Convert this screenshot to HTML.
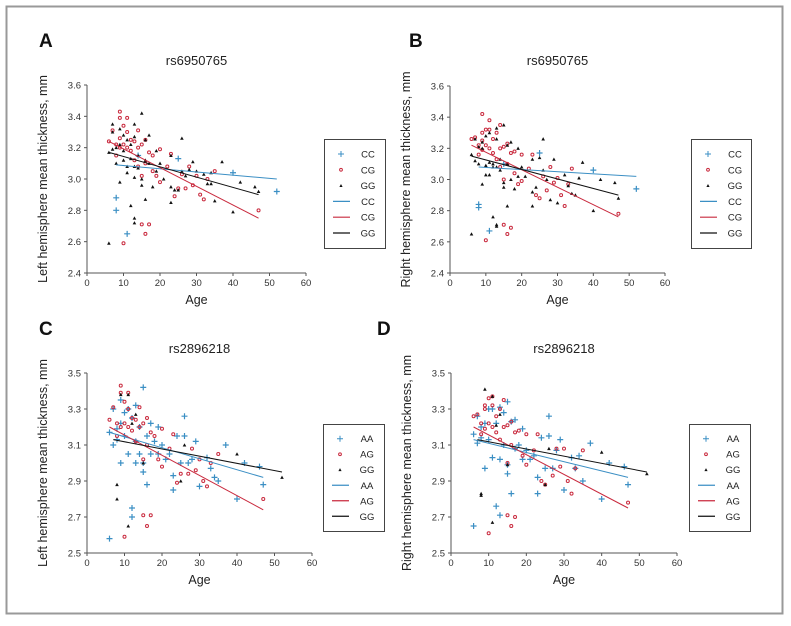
<!DOCTYPE html>
<html><head><meta charset="utf-8"><style>
body{margin:0;background:#fff;font-family:"Liberation Sans",sans-serif}
svg text{font-family:"Liberation Sans",sans-serif}
</style></head><body>
<svg id="fig" width="791" height="621" xmlns="http://www.w3.org/2000/svg">
<rect x="0" y="0" width="791" height="621" fill="#fff"/>
<rect x="6.5" y="6.5" width="776" height="607" fill="none" stroke="#999" stroke-width="2"/>
</svg>
<script>
// ---- Panel A data (rs6950765, left) ----
const A_CC_age=[8,8,11,14,25,40,52];
const A_CC_val=[2.88,2.8,2.65,3.15,3.13,3.04,2.92];
const A_CG_age=[6,7,8,8,9,9,9,9,10,10,10,11,11,11,12,12,13,13,14,14,14,15,15,15,16,16,16,17,17,18,18,19,20,20,22,23,24,25,26,27,28,29,30,31,32,33,35,47];
const A_CG_val=[3.24,3.31,3.22,3.15,3.43,3.39,3.26,3.2,3.34,3.22,2.59,3.39,3.3,3.2,3.25,3.18,3.24,3.12,3.31,3.2,3.08,3.22,3.02,2.71,3.25,3.1,2.65,3.17,2.71,3.15,3.05,3.02,3.19,2.98,3.08,3.16,2.89,2.94,3.03,2.94,3.08,2.96,3.02,2.9,2.87,3.0,3.05,2.8];
const A_GG_age=[6,6,7,7,7,8,8,9,9,9,10,10,10,11,11,11,12,12,12,13,13,13,13,13,13,14,14,15,15,15,16,16,16,17,17,18,19,19,20,21,23,23,23,24,25,26,26,27,28,29,30,32,33,34,34,35,37,40,42,46,47];
const A_GG_val=[3.17,2.59,3.35,3.3,3.19,3.1,3.2,3.32,2.98,3.22,3.28,3.18,3.12,3.25,3.08,3.04,3.22,3.13,2.83,3.35,3.27,3.08,3.01,2.75,2.72,3.15,3.07,3.42,3.0,2.96,3.25,3.12,2.87,3.28,3.1,2.95,3.18,3.05,3.1,3.0,3.15,2.85,2.95,2.93,2.93,3.26,3.05,3.02,3.06,3.11,3.05,3.03,2.97,3.04,2.97,2.86,3.11,2.79,2.98,2.95,2.92];
const A_fits=[[8,3.09,52,3.0],[6,3.24,47,2.75],[6,3.17,47,2.9]];
// ---- Panel B data (rs6950765, right) ----
const B_CC_age=[8,8,11,15,25,40,52];
const B_CC_val=[2.84,2.82,2.67,3.1,3.17,3.06,2.94];
const B_CG_age=[6,7,8,8,9,9,9,9,10,10,10,11,11,11,12,12,13,13,14,14,14,15,15,15,16,16,16,17,17,18,18,19,20,20,22,23,24,25,26,27,28,29,30,31,32,33,34,47];
const B_CG_val=[3.26,3.27,3.22,3.16,3.42,3.3,3.25,3.19,3.32,3.22,2.61,3.38,3.32,3.2,3.26,3.17,3.3,3.13,3.35,3.2,3.08,3.21,3.0,2.71,3.23,3.1,2.65,3.17,2.69,3.18,3.04,2.97,3.16,2.99,3.07,3.16,2.9,2.88,3.02,2.93,3.08,2.98,3.01,2.9,2.83,2.97,3.07,2.78];
const B_GG_age=[6,6,7,7,8,8,9,9,9,10,10,10,11,11,11,12,12,12,13,13,13,13,13,14,14,15,15,15,16,16,16,17,17,18,19,19,20,21,23,23,23,24,25,26,26,27,28,29,30,32,33,34,35,36,37,40,42,46,47];
const B_GG_val=[3.16,2.65,3.26,3.12,3.21,3.1,3.24,2.97,3.2,3.28,3.09,3.03,3.3,3.11,3.03,3.1,3.08,2.76,3.33,3.26,3.08,2.71,2.7,3.13,3.06,3.35,2.98,2.95,3.22,3.1,2.83,3.24,3.0,2.94,3.2,3.02,3.08,3.02,3.13,2.83,2.92,2.95,3.14,3.26,3.06,3.0,2.87,3.13,2.85,3.03,2.96,2.91,2.9,3.01,3.11,2.8,3.0,2.98,2.88];
const B_fits=[[8,3.08,52,3.02],[6,3.22,47,2.76],[6,3.15,47,2.9]];
// ---- Panel C data (rs2896218, left) ----
const C_AA_age=[6,6,7,7,8,8,9,9,9,10,10,11,11,12,12,12,13,13,13,14,14,15,15,15,16,16,17,17,18,19,19,20,21,22,23,23,24,25,26,26,27,28,29,30,32,33,34,35,37,40,42,46,47];
const C_AA_val=[2.58,3.17,3.3,3.1,3.19,3.13,3.35,3.22,3.0,3.28,3.15,3.3,3.05,3.25,2.75,2.7,3.32,3.12,3.0,3.2,3.05,3.42,3.0,2.95,3.15,2.88,3.22,3.05,3.12,3.2,3.05,3.1,3.02,3.05,2.93,2.85,3.15,3.0,3.26,3.15,3.0,3.02,3.12,2.87,3.03,2.97,2.92,2.9,3.1,2.8,3.0,2.98,2.88];
const C_AG_age=[6,7,8,8,9,9,9,10,10,10,11,11,11,12,12,13,13,14,14,15,15,15,16,16,16,17,17,18,19,20,20,22,23,24,25,27,28,29,30,31,32,33,35,47];
const C_AG_val=[3.24,3.31,3.22,3.15,3.43,3.39,3.2,3.34,3.22,2.59,3.39,3.3,3.2,3.25,3.18,3.24,3.12,3.31,3.2,3.22,3.02,2.71,3.25,3.1,2.65,3.17,2.71,3.15,3.02,3.19,2.98,3.08,3.16,2.89,2.94,2.94,3.08,2.96,3.02,2.9,2.87,3.0,3.05,2.8];
const C_GG_age=[8,8,9,11,11,12,13,15,25,26,40,52];
const C_GG_val=[2.88,2.8,3.38,3.38,2.65,3.22,3.27,3.0,2.9,3.1,3.05,2.92];
const C_fits=[[6,3.17,47,2.92],[6,3.2,47,2.74],[7,3.13,52,2.95]];
// ---- Panel D data (rs2896218, right) ----
const D_AA_age=[6,6,7,7,8,8,9,9,10,10,11,11,12,12,13,13,13,14,14,15,15,15,16,16,17,17,18,19,19,20,21,22,23,23,24,25,26,26,27,28,29,30,32,33,34,35,37,40,42,46,47];
const D_AA_val=[2.65,3.16,3.26,3.11,3.2,3.14,3.22,2.97,3.3,3.13,3.3,3.03,3.22,2.76,3.31,3.02,2.71,3.28,3.1,3.34,2.99,2.94,3.23,2.83,3.24,3.08,3.1,3.19,3.02,3.07,3.02,3.04,2.92,2.83,3.14,2.97,3.26,3.15,2.97,3.07,3.13,2.85,3.03,2.97,3.04,2.9,3.11,2.8,3.0,2.98,2.88];
const D_AG_age=[6,7,8,8,9,9,9,10,10,10,11,11,11,12,12,13,13,14,14,15,15,15,16,16,16,17,17,18,19,20,20,22,23,24,25,27,28,29,30,31,32,33,35,47];
const D_AG_val=[3.26,3.27,3.22,3.16,3.32,3.3,3.19,3.36,3.22,2.61,3.37,3.32,3.2,3.26,3.17,3.3,3.13,3.35,3.2,3.21,3.0,2.71,3.23,3.1,2.65,3.17,2.7,3.18,3.04,3.16,2.99,3.07,3.16,2.9,2.88,2.93,3.08,2.98,3.08,2.9,2.83,2.97,3.07,2.78];
const D_GG_age=[8,8,9,11,11,12,13,15,25,26,40,52];
const D_GG_val=[2.83,2.82,3.41,3.37,2.67,3.21,3.27,2.99,2.88,3.08,3.06,2.94];
const D_fits=[[6,3.13,47,2.92],[6,3.2,47,2.75],[7,3.13,52,2.95]];
const xTicks=[0,10,20,30,40,50,60];
const yTicksAB=[2.4,2.6,2.8,3.0,3.2,3.4,3.6];
const yTicksCD=[2.5,2.7,2.9,3.1,3.3,3.5];

const NS="http://www.w3.org/2000/svg";
const svg=document.getElementById('fig');
const BLUE="#3b8fc4",RED="#c92a3e",BLACK="#111";
function mk(tag,attrs,parent){const e=document.createElementNS(NS,tag);for(const k in attrs)e.setAttribute(k,attrs[k]);(parent||svg).appendChild(e);return e;}

function panel(cfg){
  const g=mk('g',{});
  
  
  const y0=cfg.yTicks[0],y1=cfg.yTicks[cfg.yTicks.length-1];
  const sx=v=>cfg.x0+(v-0)/60*(cfg.x1-cfg.x0);
  const sy=v=>cfg.yb-(v-y0)/(y1-y0)*(cfg.yb-cfg.yt);
  const lt=mk('text',{x:cfg.lx,y:cfg.ly,'font-size':19,'font-weight':'bold',fill:'#111'},g);lt.textContent=cfg.letter;
  
  
  const tt=mk('text',{x:(cfg.x0+cfg.x1)/2,y:cfg.titleY,'font-size':13,'text-anchor':'middle',fill:'#222'},g);tt.textContent=cfg.title;
  
  
  // axes
  const ax=mk('path',{d:`M${cfg.x0},${cfg.yt}V${cfg.yb}H${cfg.x1}`,stroke:'#555','stroke-width':1,fill:'none'},g);
  
  
  xTicks.forEach(t=>{
    mk('line',{x1:sx(t),x2:sx(t),y1:cfg.yb,y2:cfg.yb+3,stroke:'#555'},g);
    const tx=mk('text',{x:sx(t),y:cfg.yb+13,'font-size':9.5,'text-anchor':'middle',fill:'#333'},g);tx.textContent=t;
    
    
  });
  cfg.yTicks.forEach(t=>{
    mk('line',{x1:cfg.x0-3,x2:cfg.x0,y1:sy(t),y2:sy(t),stroke:'#555'},g);
    const ty=mk('text',{x:cfg.x0-6,y:sy(t)+3.5,'font-size':9.5,'text-anchor':'end',fill:'#333'},g);ty.textContent=t.toFixed(1);
    
    
  });
  const xt=mk('text',{x:(cfg.x0+cfg.x1)/2,y:cfg.yb+31,'font-size':12.5,'text-anchor':'middle',fill:'#222'},g);xt.textContent='Age';
  
  
  const cy=(cfg.yt+cfg.yb)/2;
  const yt=mk('text',{x:cfg.x0-40,y:cy,'font-size':12.5,'text-anchor':'middle',fill:'#222',transform:`rotate(-90 ${cfg.x0-40} ${cy})`},g);yt.textContent=cfg.ytitle;
  
  
  // points
  const styles=[BLUE,RED,BLACK];
  cfg.series.forEach((s,i)=>{
    s.age.forEach((a,j)=>{
      const px=sx(a),py=sy(s.val[j]);let m;
      if(i===0) m=mk('path',{d:`M${px-3},${py}H${px+3}M${px},${py-3}V${py+3}`,stroke:BLUE,'stroke-width':1.2},g);
      else if(i===1) m=mk('circle',{cx:px,cy:py,r:1.5,fill:'none',stroke:RED,'stroke-width':1},g);
      else m=mk('path',{d:`M${px-1.8},${py+1.5}L${px},${py-1.8}L${px+1.8},${py+1.5}Z`,fill:BLACK},g);
      
      
    });
  });
  cfg.fits.forEach((f,i)=>{
    const l=mk('line',{x1:sx(f[0]),y1:sy(f[1]),x2:sx(f[2]),y2:sy(f[3]),stroke:styles[i],'stroke-width':1},g);
    
    
  });
  // legend
  const L=cfg.leg;
  const lg=mk('g',{},g);
  
  
  mk('rect',{x:L[0]+0.5,y:L[1]+0.5,width:L[2]-L[0],height:L[3]-L[1],fill:'#fff',stroke:'#444'},lg);
  const step=(L[3]-L[1])/6.9;
  for(let k=0;k<6;k++){
    const yy=L[1]+step*(k+0.95);const nm=cfg.series[k%3].name;const lx=L[0]+17;
    if(k===0) mk('path',{d:`M${lx-3},${yy}H${lx+3}M${lx},${yy-3}V${yy+3}`,stroke:BLUE,'stroke-width':1},lg);
    else if(k===1) mk('circle',{cx:lx,cy:yy,r:1.4,fill:'none',stroke:RED},lg);
    else if(k===2) mk('path',{d:`M${lx-1.6},${yy+1.4}L${lx},${yy-1.6}L${lx+1.6},${yy+1.4}Z`,fill:BLACK},lg);
    else mk('line',{x1:L[0]+9,x2:L[0]+26,y1:yy,y2:yy,stroke:styles[k-3],'stroke-width':1.2},lg);
    const t=mk('text',{x:L[0]+44,y:yy+3.5,'font-size':9.5,'text-anchor':'middle',fill:'#222'},lg);t.textContent=nm;
    
    
  }
}
panel({letter:'A',lx:39,ly:47,title:'rs6950765',titleY:65,x0:87,x1:306,yt:85,yb:273,yTicks:yTicksAB,ytitle:'Left hemisphere mean thickness, mm',
  series:[{name:'CC',age:A_CC_age,val:A_CC_val},{name:'CG',age:A_CG_age,val:A_CG_val},{name:'GG',age:A_GG_age,val:A_GG_val}],fits:A_fits,leg:[324,139,385,248]});
panel({letter:'B',lx:409,ly:47,title:'rs6950765',titleY:65,x0:450,x1:665,yt:86,yb:273,yTicks:yTicksAB,ytitle:'Right hemisphere mean thickness, mm',
  series:[{name:'CC',age:B_CC_age,val:B_CC_val},{name:'CG',age:B_CG_age,val:B_CG_val},{name:'GG',age:B_GG_age,val:B_GG_val}],fits:B_fits,leg:[691,139,751,248]});
panel({letter:'C',lx:39,ly:335,title:'rs2896218',titleY:353,x0:87,x1:312,yt:373,yb:553,yTicks:yTicksCD,ytitle:'Left hemisphere mean thickness, mm',
  series:[{name:'AA',age:C_AA_age,val:C_AA_val},{name:'AG',age:C_AG_age,val:C_AG_val},{name:'GG',age:C_GG_age,val:C_GG_val}],fits:C_fits,leg:[323,424,384,531]});
panel({letter:'D',lx:377,ly:335,title:'rs2896218',titleY:353,x0:451,x1:677,yt:373,yb:553,yTicks:yTicksCD,ytitle:'Right hemisphere mean thickness, mm',
  series:[{name:'AA',age:D_AA_age,val:D_AA_val},{name:'AG',age:D_AG_age,val:D_AG_val},{name:'GG',age:D_GG_age,val:D_GG_val}],fits:D_fits,leg:[689,424,750,531]});
</script>
</body></html>
